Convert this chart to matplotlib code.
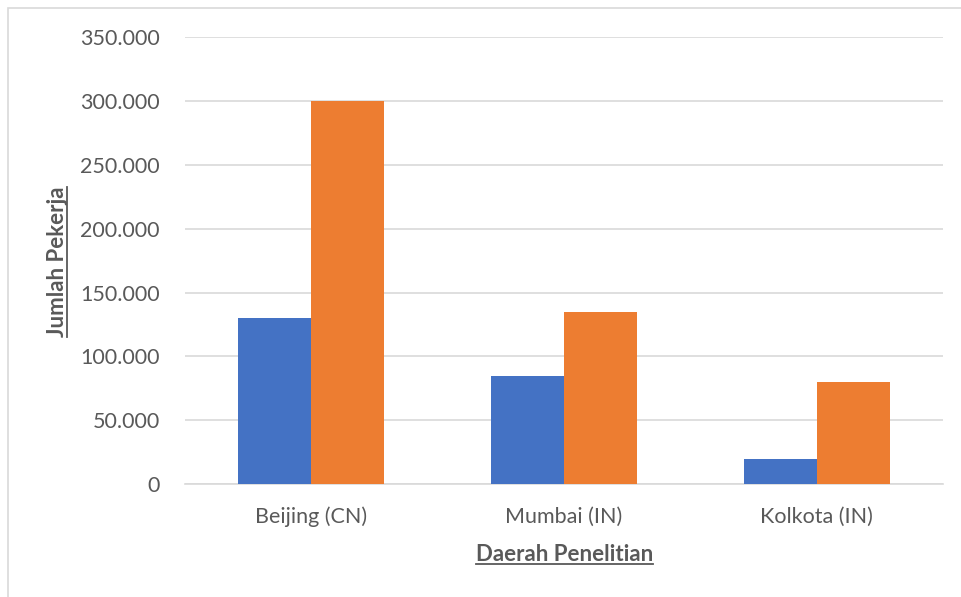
import numpy as np
import matplotlib.pyplot as plt
from matplotlib.lines import Line2D
from matplotlib.patches import Rectangle

plt.rcParams['font.family'] = ['Lato', 'DejaVu Sans']

# data
regions = ['Beijing (CN)', 'Mumbai (IN)', 'Kolkota (IN)']
series_a = [130000, 85000, 20000]
series_b = [300000, 135000, 80000]
yticks = [0, 50000, 100000, 150000, 200000, 250000, 300000, 350000]

blue = '#4472C4'
orange = '#ED7D31'
txt = '#595959'
grid = '#D9D9D9'

fig = plt.figure(figsize=(9.62, 5.97), dpi=100)
ax = fig.add_axes([0.1923, 0.189, 0.788, 0.749])

# frame of the chart area (cropped on right / bottom)
fig.patches.append(Rectangle((8 / 962, -0.1), 1.2, 1.1 - 7.5 / 597,
                             transform=fig.transFigure, fill=False,
                             edgecolor='#D9D9D9', linewidth=1.2))

x = np.arange(len(regions))
w = 0.289
ax.bar(x - w / 2, series_a, width=w, color=blue, zorder=3)
ax.bar(x + w / 2, series_b, width=w, color=orange, zorder=3)

ax.set_xlim(-0.5, len(regions) - 0.5)
ax.set_ylim(0, 350000)
ax.set_yticks(yticks)
ax.set_yticklabels([f"{v:,}".replace(',', '.') for v in yticks])
ax.set_xticks(x)
ax.set_xticklabels(regions)
ax.grid(axis='y', color=grid, linewidth=1.2, zorder=0)
for s in ['top', 'right', 'left']:
    ax.spines[s].set_visible(False)
ax.spines['bottom'].set_color(grid)
ax.spines['bottom'].set_linewidth(1.2)
ax.tick_params(axis='both', length=0, labelsize=15.5, colors=txt)
ax.tick_params(axis='y', pad=18)
ax.tick_params(axis='x', pad=16)

# axis titles, bold and underlined
xt = fig.text(0.5865, 0.072, 'Daerah Penelitian', ha='center', va='center',
              fontsize=16, fontweight='bold', color=txt)
yt = fig.text(0.060, 0.561, 'Jumlah Pekerja', ha='center', va='center',
              rotation=90, fontsize=16, fontweight='bold', color=txt)

fig.canvas.draw()
r = fig.canvas.get_renderer()
inv = fig.transFigure.inverted()
bb = xt.get_window_extent(r)
(x0, y0), (x1, y1) = inv.transform([(bb.x0, bb.y0 + 1), (bb.x1, bb.y0 + 1)])
fig.add_artist(Line2D([x0, x1], [y0, y1], color=txt, linewidth=1.3,
                      transform=fig.transFigure))
bb = yt.get_window_extent(r)
(x0, y0), (x1, y1) = inv.transform([(bb.x1 - 1, bb.y0), (bb.x1 - 1, bb.y1)])
fig.add_artist(Line2D([x0, x1], [y0, y1], color=txt, linewidth=1.3,
                      transform=fig.transFigure))

fig.savefig('out.png', dpi=100)
